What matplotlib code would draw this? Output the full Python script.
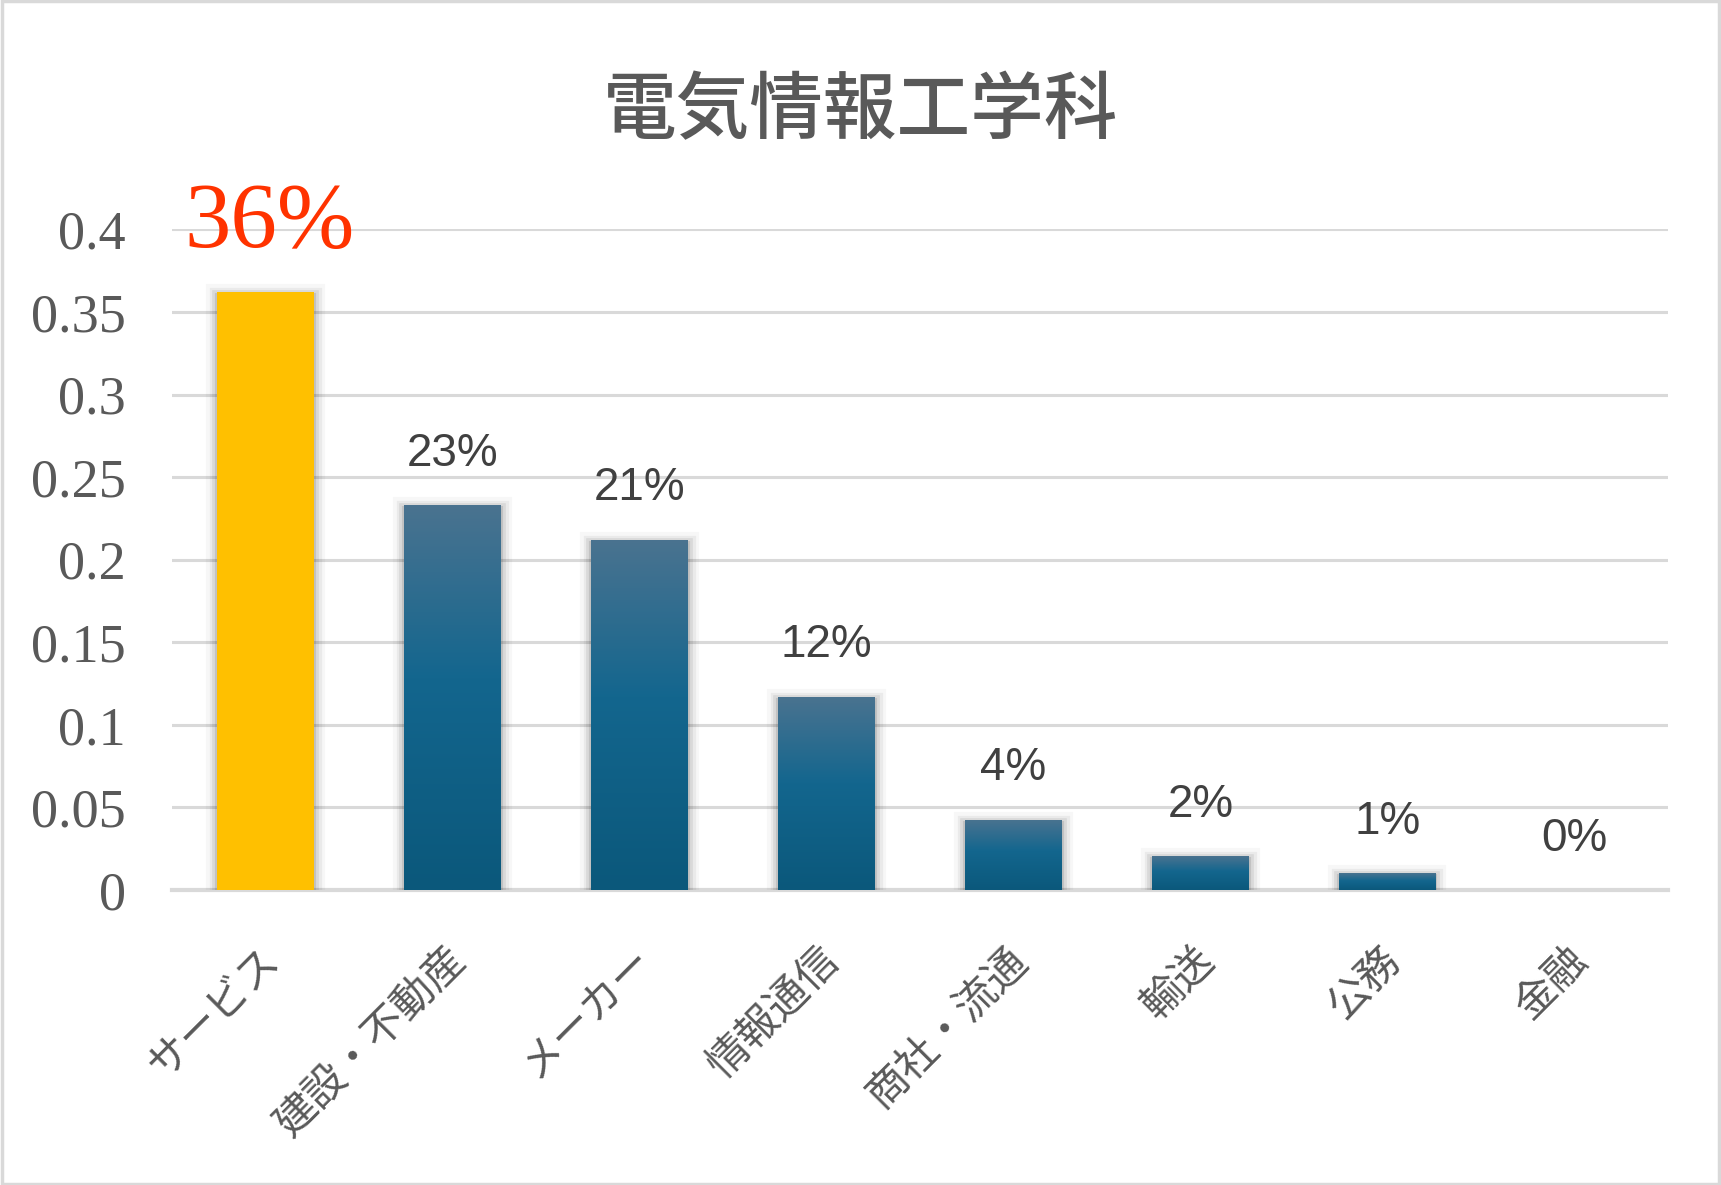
# Bar chart: 電気情報工学科 employment breakdown

import matplotlib.pyplot as plt
import matplotlib.patheffects as pe
import matplotlib.transforms as mtransforms
from matplotlib.patches import Rectangle
from matplotlib.colors import LinearSegmentedColormap
import numpy as np

plt.rcParams['font.family'] = ['Noto Sans CJK JP', 'DejaVu Sans']

# data
categories = ["サービス", "建設・不動産", "メーカー", "情報通信", "商社・流通", "輸送", "公務", "金融"]
values = [0.362, 0.233, 0.212, 0.117, 0.0425, 0.0205, 0.01, 0.0]
labels = ["36%", "23%", "21%", "12%", "4%", "2%", "1%", "0%"]
yticks = [0, 0.05, 0.1, 0.15, 0.2, 0.25, 0.3, 0.35, 0.4]
ytick_labels = ["0", "0.05", "0.1", "0.15", "0.2", "0.25", "0.3", "0.35", "0.4"]

fig = plt.figure(figsize=(17.21, 11.85), dpi=100)
ax = fig.add_axes([0.0999, 0.249, 0.8692, 0.5574])

x = np.arange(len(categories))
shadow = [pe.Stroke(linewidth=lw, foreground='black', alpha=a, offset=(0, -2))
          for lw, a in [(16, 0.03), (11, 0.05), (7, 0.07), (3, 0.1)]] + [pe.Normal()]

bars = ax.bar(x, values, width=0.515, color="#0b5a7d", zorder=3, linewidth=0)

# gradient fill for the blue bars
grad = np.linspace(0, 1, 256).reshape(-1, 1)
cmap = LinearSegmentedColormap.from_list(
    "bluegrad", [(0.0, "#0b587b"), (0.55, "#13668e"), (1.0, "#4a7390")])
for i, b in enumerate(bars):
    b.set_path_effects(shadow)
    if i == 0:
        b.set_facecolor("#ffc000")
        continue
    if values[i] <= 0:
        b.set_visible(False)
        continue
    im = ax.imshow(grad, cmap=cmap, aspect='auto', origin='lower', zorder=4,
                   extent=[b.get_x(), b.get_x() + b.get_width(), 0, b.get_height()])
    im.set_clip_path(b)

# data labels
for i, (v, lab) in enumerate(zip(values, labels)):
    if i == 0:
        ax.annotate(lab, (x[i], v), xytext=(3, 49), textcoords='offset points',
                    ha='center', va='center', fontsize=67, color="#ff3300",
                    family='Liberation Serif', zorder=5)
    else:
        ax.annotate(lab, (x[i], v), xytext=(0, 37), textcoords='offset points',
                    ha='center', va='center', fontsize=33, color="#404040",
                    family='Liberation Sans', zorder=5)

ax.set_xlim(-0.5, len(categories) - 0.5)
ax.set_ylim(0, 0.4)
ax.set_yticks(yticks)
ax.set_yticklabels(ytick_labels, family='Liberation Serif', fontsize=39, color="#595959")
ax.set_xticks(x)
ax.set_xticklabels(categories, rotation=45, ha='right', va='center',
                   rotation_mode='anchor', fontsize=30, color="#595959")
ax.tick_params(axis='y', length=0, pad=33)
ax.tick_params(axis='x', length=0, pad=46)

# nudge category labels a little to the right
shift = mtransforms.ScaledTranslation(7 / 100, 0, fig.dpi_scale_trans)
for t in ax.get_xticklabels():
    t.set_transform(t.get_transform() + shift)

# grid
ax.grid(axis='y', color="#d9d9d9", linewidth=2.2, zorder=0)
ax.set_axisbelow(True)
for s in ['top', 'right', 'left']:
    ax.spines[s].set_visible(False)
ax.spines['bottom'].set_color("#d9d9d9")
ax.spines['bottom'].set_linewidth(3)
ax.spines['bottom'].set_zorder(2)

# title
fig.text(0.5, 0.905, "電気情報工学科", ha='center', va='center',
         fontsize=53, color="#595959", fontweight='medium')

# chart border
fig.patches.append(Rectangle((0.001, 0.001), 0.998, 0.998, transform=fig.transFigure,
                             fill=False, edgecolor="#d9d9d9", linewidth=2.5))

plt.savefig("out.png", dpi=100)
